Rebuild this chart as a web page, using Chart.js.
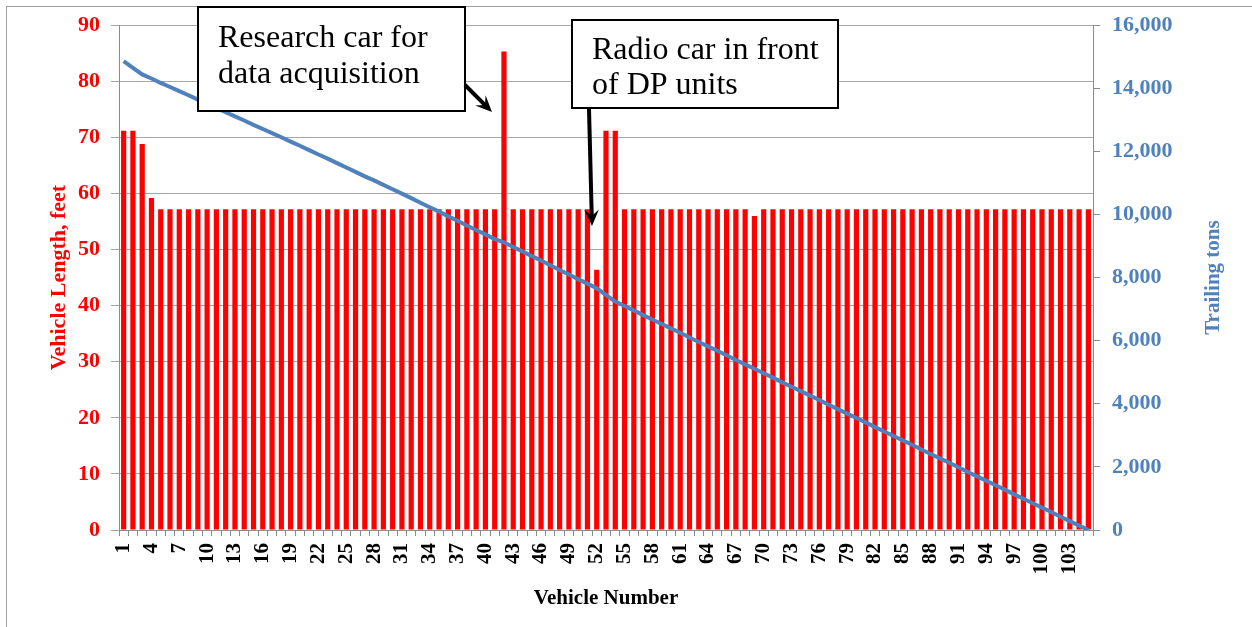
<!DOCTYPE html>
<html>
<head>
<meta charset="utf-8">
<script src="https://cdn.jsdelivr.net/npm/chart.js@4.4.1/dist/chart.umd.min.js"></script>
<style>
  html, body { margin: 0; padding: 0; background: #fff; }
  #wrap { width: 1252px; height: 627px; }
</style>
</head>
<body>
<div id="wrap"><canvas id="trainChart" width="1252" height="627"></canvas></div>
<script>
const vehicleNumbers = [
  1, 2, 3, 4, 5, 6, 7, 8, 9, 10, 11, 12, 13, 14, 15, 16, 17, 18, 19, 20,
  21, 22, 23, 24, 25, 26, 27, 28, 29, 30, 31, 32, 33, 34, 35, 36, 37, 38, 39, 40,
  41, 42, 43, 44, 45, 46, 47, 48, 49, 50, 51, 52, 53, 54, 55, 56, 57, 58, 59, 60,
  61, 62, 63, 64, 65, 66, 67, 68, 69, 70, 71, 72, 73, 74, 75, 76, 77, 78, 79, 80,
  81, 82, 83, 84, 85, 86, 87, 88, 89, 90, 91, 92, 93, 94, 95, 96, 97, 98, 99, 100,
  101, 102, 103, 104, 105
]

// vehicle length, feet
const lengthFeet = [
  71.2, 71.2, 68.8, 59.2, 57.2, 57.2, 57.2, 57.2, 57.2, 57.2,
  57.2, 57.2, 57.2, 57.2, 57.2, 57.2, 57.2, 57.2, 57.2, 57.2,
  57.2, 57.2, 57.2, 57.2, 57.2, 57.2, 57.2, 57.2, 57.2, 57.2,
  57.2, 57.2, 57.2, 57.2, 57.2, 57.2, 57.2, 57.2, 57.2, 57.2,
  57.2, 85.3, 57.2, 57.2, 57.2, 57.2, 57.2, 57.2, 57.2, 57.2,
  57.2, 46.4, 71.2, 71.2, 57.2, 57.2, 57.2, 57.2, 57.2, 57.2,
  57.2, 57.2, 57.2, 57.2, 57.2, 57.2, 57.2, 57.2, 56.0, 57.2,
  57.2, 57.2, 57.2, 57.2, 57.2, 57.2, 57.2, 57.2, 57.2, 57.2,
  57.2, 57.2, 57.2, 57.2, 57.2, 57.2, 57.2, 57.2, 57.2, 57.2,
  57.2, 57.2, 57.2, 57.2, 57.2, 57.2, 57.2, 57.2, 57.2, 57.2,
  57.2, 57.2, 57.2, 57.2, 57.2
]

// trailing tons behind each vehicle
const trailingTons = [
  14860, 14650, 14440, 14310, 14170, 14040, 13910, 13780, 13640, 13510,
  13380, 13240, 13110, 12980, 12840, 12710, 12580, 12450, 12310, 12180,
  12040, 11900, 11770, 11630, 11490, 11350, 11210, 11080, 10940, 10800,
  10660, 10520, 10370, 10230, 10090, 9940, 9800, 9650, 9510, 9370,
  9220, 9120, 8970, 8830, 8680, 8540, 8390, 8240, 8100, 7950,
  7810, 7660, 7450, 7240, 7100, 6960, 6810, 6670, 6530, 6390,
  6250, 6100, 5960, 5820, 5680, 5540, 5390, 5250, 5110, 4970,
  4830, 4680, 4540, 4400, 4260, 4120, 3970, 3830, 3690, 3550,
  3410, 3260, 3120, 2980, 2840, 2700, 2550, 2410, 2270, 2130,
  1990, 1840, 1700, 1560, 1420, 1280, 1130, 990, 850, 710,
  570, 420, 280, 140, 0
]

const leftTicks = [0, 10, 20, 30, 40, 50, 60, 70, 80, 90]
const rightTicks = [0, 2000, 4000, 6000, 8000, 10000, 12000, 14000, 16000]

const serif = 'Liberation Serif'
const red = '#FF0000'
const blue = '#4F81BD'

function withCommas(v) {
  return String(v).replace(/\B(?=(\d{3})+(?!\d))/g, ',')
}

function arrow(ctx, x1, y1, x2, y2) {
  const a = Math.atan2(y2 - y1, x2 - x1)
  const head = 18
  ctx.beginPath()
  ctx.moveTo(x1, y1)
  ctx.lineTo(x2 - Math.cos(a) * 9, y2 - Math.sin(a) * 9)
  ctx.stroke()
  ctx.beginPath()
  ctx.moveTo(x2, y2)
  ctx.lineTo(x2 - head * Math.cos(a - 0.42), y2 - head * Math.sin(a - 0.42))
  ctx.lineTo(x2 - head * 0.55 * Math.cos(a), y2 - head * 0.55 * Math.sin(a))
  ctx.lineTo(x2 - head * Math.cos(a + 0.42), y2 - head * Math.sin(a + 0.42))
  ctx.closePath()
  ctx.fill()
}

function noteBox(ctx, x, y, w, h, lines, textX, baselines) {
  ctx.fillStyle = '#fff'
  ctx.fillRect(x, y, w, h)
  ctx.strokeStyle = '#000'
  ctx.lineWidth = 2
  ctx.strokeRect(x, y, w, h)
  ctx.fillStyle = '#000'
  ctx.font = '32px "' + serif + '"'
  ctx.textAlign = 'left'
  ctx.textBaseline = 'alphabetic'
  lines.forEach((t, i) => ctx.fillText(t, textX, baselines[i]))
}

const extras = {
  id: 'extras',
  beforeDraw(chart) {
    const ctx = chart.ctx
    ctx.save()
    ctx.fillStyle = '#fff'
    ctx.fillRect(0, 0, chart.width, chart.height)
    // outer frame, right and bottom edges fall outside the picture
    ctx.strokeStyle = '#a0a0a0'
    ctx.lineWidth = 1
    ctx.strokeRect(6.5, 6.5, 1400, 800)
    ctx.restore()
  },
  afterDraw(chart) {
    const ctx = chart.ctx
    const area = chart.chartArea
    const mid = (area.top + area.bottom) / 2
    ctx.save()
    ctx.font = 'bold 22px "' + serif + '"'
    ctx.textAlign = 'center'
    ctx.textBaseline = 'middle'
    // left title
    ctx.fillStyle = red
    ctx.translate(59, mid)
    ctx.rotate(-Math.PI / 2)
    ctx.fillText('Vehicle Length, feet', 0, 0)
    ctx.setTransform(1, 0, 0, 1, 0, 0)
    // right title, reads bottom to top
    ctx.fillStyle = blue
    ctx.font = 'bold 21px "' + serif + '"'
    ctx.translate(1214, mid)
    ctx.rotate(-Math.PI / 2)
    ctx.fillText('Trailing tons', 0, 0)
    ctx.setTransform(1, 0, 0, 1, 0, 0)

    // callouts
    noteBox(ctx, 198, 7, 267, 104, ['Research car for', 'data acquisition'], 218, [47, 83])
    noteBox(ctx, 572, 20, 266, 88, ['Radio car in front', 'of DP units'], 592, [59, 94])
    ctx.strokeStyle = '#000'
    ctx.fillStyle = '#000'
    ctx.lineWidth = 4
    arrow(ctx, 465, 85, 492, 112)
    arrow(ctx, 589, 109, 592, 226)
    ctx.restore()
  }
}

const tickFont = { family: serif, size: 22, weight: 'bold' }

new Chart(document.getElementById('trainChart'), {
  data: {
    labels: vehicleNumbers,
    datasets: [
      {
        type: 'line',
        label: 'Trailing tons',
        data: trailingTons,
        yAxisID: 'yTons',
        borderColor: blue,
        borderWidth: 4,
        pointRadius: 0,
        tension: 0,
        order: 0
      },
      {
        type: 'bar',
        label: 'Vehicle Length, feet',
        data: lengthFeet,
        yAxisID: 'yLen',
        backgroundColor: red,
        categoryPercentage: 1,
        barPercentage: 0.56,
        order: 1
      }
    ]
  },
  options: {
    responsive: false,
    animation: false,
    layout: { padding: { top: 22 } },
    plugins: {
      legend: { display: false },
      tooltip: { enabled: false }
    },
    scales: {
      x: {
        offset: true,
        grid: { offset: true, drawOnChartArea: false, color: '#8c8c8c', tickLength: 6 },
        border: { color: '#8c8c8c' },
        ticks: {
          autoSkip: false,
          minRotation: 90,
          maxRotation: 90,
          padding: 7,
          color: '#000',
          font: { family: serif, size: 21, weight: 'bold' },
          callback: (v, i) => (i % 3 === 0 ? String(vehicleNumbers[i]) : '')
        },
        title: {
          display: true,
          text: 'Vehicle Number',
          color: '#000',
          font: { family: serif, size: 21, weight: 'bold' },
          padding: { top: 4, bottom: 16 }
        },
        afterFit: s => { s.height = 97 }
      },
      yLen: {
        position: 'left',
        min: 0,
        max: 90,
        afterBuildTicks: s => { s.ticks = leftTicks.map(v => ({ value: v })) },
        grid: { color: '#a6a6a6', tickLength: 8 },
        border: { color: '#8c8c8c' },
        ticks: { color: red, font: tickFont, padding: 11 },
        afterFit: s => { s.width = 119 }
      },
      yTons: {
        position: 'right',
        min: 0,
        max: 16000,
        afterBuildTicks: s => { s.ticks = rightTicks.map(v => ({ value: v })) },
        grid: { drawOnChartArea: false, color: '#8c8c8c', tickLength: 7 },
        border: { color: '#8c8c8c' },
        ticks: { color: blue, font: tickFont, padding: 12, callback: v => withCommas(v) },
        afterFit: s => { s.width = 159 }
      }
    }
  },
  plugins: [extras]
})
</script>
</body>
</html>
